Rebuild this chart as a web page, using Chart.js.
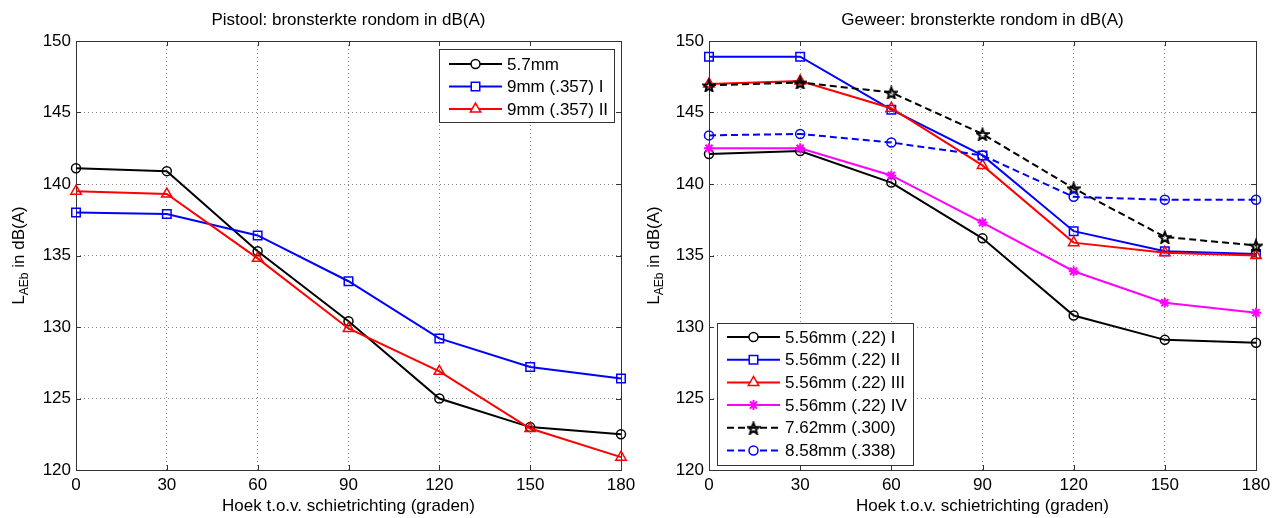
<!DOCTYPE html>
<html>
<head>
<meta charset="utf-8">
<script src="https://cdn.jsdelivr.net/npm/chart.js@4.4.1/dist/chart.umd.min.js"></script>
<style>
  body { margin: 0; background: #fff; }
  canvas { position: absolute; top: 0; }
  #pistool { left: 0; }
  #geweer { left: 642px; }
</style>
</head>
<body>
<canvas id="pistool" width="642" height="518"></canvas>
<canvas id="geweer" width="643" height="518"></canvas>
<script>
// shared axes
const angles = [0, 30, 60, 90, 120, 150, 180];
const levelTicks = [120, 125, 130, 135, 140, 145, 150];

// Pistool (left)
const pistolLabels = ["5.7mm", "9mm (.357) I", "9mm (.357) II"];
const pistol57 = [141.1, 140.9, 135.3, 130.4, 125.0, 123.0, 122.5];
const pistol9I = [138.0, 137.9, 136.4, 133.2, 129.2, 127.2, 126.4];
const pistol9II = [139.5, 139.3, 134.8, 129.9, 126.9, 122.9, 120.9];

// Geweer (right)
const rifleLabels = ["5.56mm (.22) I", "5.56mm (.22) II", "5.56mm (.22) III",
  "5.56mm (.22) IV", "7.62mm (.300)", "8.58mm (.338)"];
const rifle556I = [142.1, 142.3, 140.1, 136.2, 130.8, 129.1, 128.9];
const rifle556II = [148.9, 148.9, 145.2, 142.0, 136.7, 135.3, 135.1];
const rifle556III = [147.0, 147.2, 145.3, 141.3, 135.9, 135.2, 135.0];
const rifle556IV = [142.5, 142.5, 140.6, 137.3, 133.9, 131.7, 131.0];
const rifle762 = [146.9, 147.1, 146.4, 143.5, 139.7, 136.3, 135.7];
const rifle858 = [143.4, 143.5, 142.9, 142.0, 139.1, 138.9, 138.9];

const FONT = "'Liberation Sans', Arial, Helvetica, sans-serif";

// matlab style pentagram marker
function makePentagram(size, color) {
  const c = document.createElement("canvas");
  c.width = c.height = size;
  const g = c.getContext("2d");
  const R = size / 2 - 1, r = R * 0.42;
  g.beginPath();
  for (let i = 0; i < 10; i++) {
    const a = -Math.PI / 2 + i * Math.PI / 5;
    const rr = i % 2 ? r : R;
    g.lineTo(size / 2 + rr * Math.cos(a), size / 2 + 1 + rr * Math.sin(a));
  }
  g.closePath();
  g.lineWidth = 2;
  g.strokeStyle = color;
  g.stroke();
  return c;
}
const pentagram = makePentagram(14, "#000");

function series(label, values, color, style, extra) {
  return Object.assign({
    label: label,
    data: angles.map((a, i) => ({ x: a, y: values[i] })),
    borderColor: color,
    pointBorderColor: color,
    pointBackgroundColor: "rgba(0,0,0,0)",
    pointStyle: style,
    pointRadius: 4.5,
    pointBorderWidth: 1.5,
    borderWidth: 2,
    tension: 0,
    clip: false
  }, extra || {});
}

function makeScales(yWidth) {
  const grid = { color: "#8a8a8a", lineWidth: 1, drawTicks: false };
  const border = { display: false, dash: [1, 3] };
  return {
    x: {
      type: "linear", min: 0, max: 180,
      afterBuildTicks: (s) => { s.ticks = angles.map((v) => ({ value: v })); },
      afterFit: (s) => { s.height = 48; },
      ticks: { color: "#000", padding: 5, font: { family: FONT, size: 17 } },
      grid: grid, border: border,
      title: {
        display: true, text: "Hoek t.o.v. schietrichting (graden)", color: "#000",
        font: { family: FONT, size: 17 }, padding: { top: 0, bottom: 1 }
      }
    },
    y: {
      type: "linear", min: 120, max: 150,
      afterBuildTicks: (s) => { s.ticks = levelTicks.map((v) => ({ value: v })); },
      afterFit: (s) => { s.width = yWidth; },
      ticks: { color: "#000", padding: 5, font: { family: FONT, size: 17 } },
      grid: grid, border: border
    }
  };
}

// axes box, inward ticks, title, y label with subscript, legend box
const matlabPlugin = {
  id: "matlab",
  beforeDatasetsDraw(chart, args, opts) {
    const { ctx, chartArea: a, scales } = chart;
    ctx.save();
    ctx.strokeStyle = "#333";
    ctx.lineWidth = 1;
    ctx.strokeRect(Math.round(a.left) + 0.5, Math.round(a.top) + 0.5,
      Math.round(a.right - a.left), Math.round(a.bottom - a.top));
    ctx.beginPath();
    angles.forEach((v) => {
      const x = Math.round(scales.x.getPixelForValue(v)) + 0.5;
      ctx.moveTo(x, a.bottom); ctx.lineTo(x, a.bottom - 5);
      ctx.moveTo(x, a.top); ctx.lineTo(x, a.top + 5);
    });
    levelTicks.forEach((v) => {
      const y = Math.round(scales.y.getPixelForValue(v)) + 0.5;
      ctx.moveTo(a.left, y); ctx.lineTo(a.left + 5, y);
      ctx.moveTo(a.right, y); ctx.lineTo(a.right - 5, y);
    });
    ctx.stroke();
    ctx.restore();
  },
  afterDraw(chart, args, opts) {
    const { ctx, chartArea: a } = chart;
    ctx.save();
    ctx.fillStyle = "#000";
    // title
    ctx.font = "17px " + FONT;
    ctx.textAlign = "center";
    ctx.textBaseline = "alphabetic";
    ctx.fillText(opts.title, (a.left + a.right) / 2, 25);

    // y label: L_AEb in dB(A)
    ctx.save();
    ctx.translate(opts.yLabelX, (a.top + a.bottom) / 2);
    ctx.rotate(-Math.PI / 2);
    ctx.textAlign = "left";
    ctx.font = "17px " + FONT;
    const wL = ctx.measureText("L").width;
    const wRest = ctx.measureText(" in dB(A)").width;
    ctx.font = "12px " + FONT;
    const wSub = ctx.measureText("AEb").width;
    let x0 = -(wL + wSub + wRest) / 2;
    ctx.font = "17px " + FONT;
    ctx.fillText("L", x0, 0);
    ctx.font = "12px " + FONT;
    ctx.fillText("AEb", x0 + wL, 4);
    ctx.font = "17px " + FONT;
    ctx.fillText(" in dB(A)", x0 + wL + wSub, 0);
    ctx.restore();

    // legend
    const lg = opts.legend;
    ctx.fillStyle = "#fff";
    ctx.fillRect(lg.x, lg.y, lg.w, lg.h);
    ctx.strokeStyle = "#333";
    ctx.lineWidth = 1;
    ctx.strokeRect(lg.x + 0.5, lg.y + 0.5, lg.w, lg.h);
    chart.data.datasets.forEach((ds, i) => {
      const y = lg.y + lg.first + i * lg.step;
      ctx.strokeStyle = ds.borderColor;
      ctx.lineWidth = ds.borderWidth;
      ctx.setLineDash(ds.borderDash || []);
      ctx.beginPath();
      ctx.moveTo(lg.x + 10, y);
      ctx.lineTo(lg.x + 63, y);
      ctx.stroke();
      ctx.setLineDash([]);
      ctx.lineWidth = ds.pointBorderWidth;
      ctx.fillStyle = "#fff";
      Chart.helpers.drawPoint(ctx, {
        pointStyle: ds.pointStyle, rotation: 0,
        radius: ds.pointRadius, borderWidth: ds.pointBorderWidth
      }, lg.x + 36.5, y);
      ctx.fillStyle = "#000";
      ctx.font = "17px " + FONT;
      ctx.textAlign = "left";
      ctx.textBaseline = "middle";
      ctx.fillText(ds.label, lg.x + 68, y + 1);
    });
    ctx.restore();
  }
};

function withOrder(list) {
  list.forEach((ds, i) => { ds.order = list.length - i; });
  return list;
}

function makeChart(id, datasets, yWidth, rightPad, pluginOpts) {
  return new Chart(document.getElementById(id), {
    type: "line",
    data: { datasets: withOrder(datasets) },
    options: {
      responsive: false,
      animation: false,
      devicePixelRatio: 1,
      layout: { padding: { top: 41, right: rightPad, bottom: 0, left: 0 } },
      scales: makeScales(yWidth),
      plugins: {
        legend: { display: false },
        tooltip: { enabled: false },
        matlab: pluginOpts
      }
    },
    plugins: [matlabPlugin]
  });
}

makeChart("pistool", [
  series(pistolLabels[0], pistol57, "#000000", "circle"),
  series(pistolLabels[1], pistol9I, "#0000ff", "rect", { pointRadius: 6 }),
  series(pistolLabels[2], pistol9II, "#ff0000", "triangle", { pointRadius: 6 })
], 76, 21, {
  title: "Pistool: bronsterkte rondom in dB(A)",
  yLabelX: 24,
  legend: { x: 439, y: 49, w: 175, h: 73, first: 15, step: 22.5 }
});

makeChart("geweer", [
  series(rifleLabels[0], rifle556I, "#000000", "circle"),
  series(rifleLabels[1], rifle556II, "#0000ff", "rect", { pointRadius: 6 }),
  series(rifleLabels[2], rifle556III, "#ff0000", "triangle", { pointRadius: 6 }),
  series(rifleLabels[3], rifle556IV, "#ff00ff", "star", { pointRadius: 5, pointBorderWidth: 2 }),
  series(rifleLabels[4], rifle762, "#000000", pentagram, { borderDash: [7, 4] }),
  series(rifleLabels[5], rifle858, "#0000ff", "circle", { borderDash: [7, 4] })
], 67, 29, {
  title: "Geweer: bronsterkte rondom in dB(A)",
  yLabelX: 17,
  legend: { x: 75, y: 323, w: 196, h: 142, first: 14, step: 22.7 }
});
</script>
</body>
</html>
